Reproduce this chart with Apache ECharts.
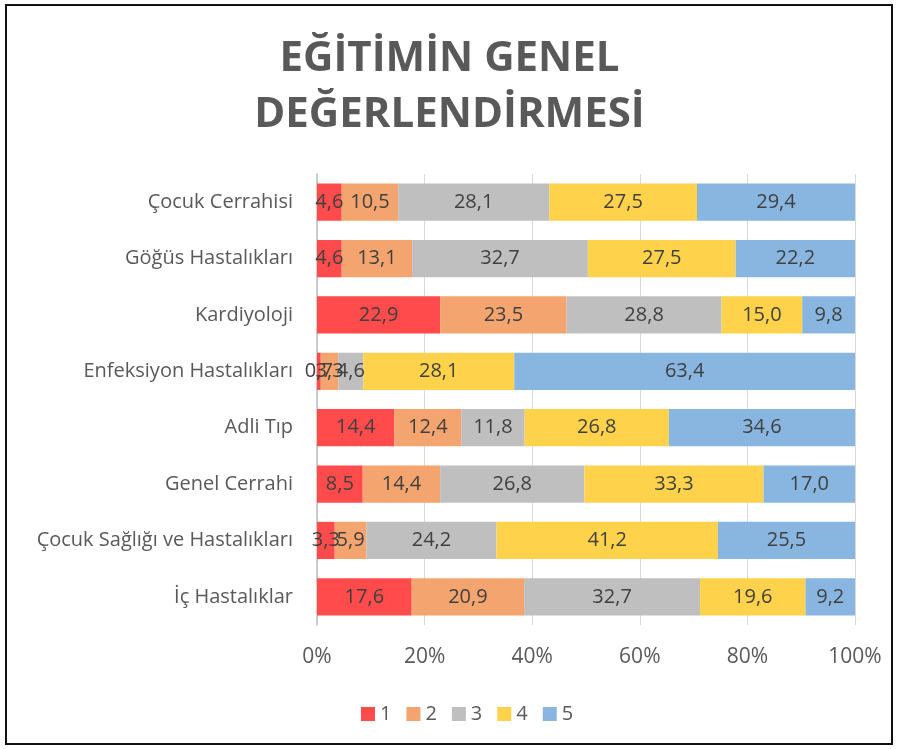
<!DOCTYPE html>
<html lang="tr">
  <head>
    <meta charset="UTF-8" />
    <title>Eğitimin Genel Değerlendirmesi</title>
    <script src="https://cdn.jsdelivr.net/npm/echarts@6/dist/echarts.min.js"></script>
    <style>
      body { margin: 0; background: #fff; }
      #frame { position: absolute; left: 5px; top: 4px; width: 884px; height: 737px; border: 2px solid #111; }
      #chart { position: absolute; left: 0; top: 0; width: 899px; height: 749px; }
    </style>
  </head>
  <body>
    <div id="frame"></div>
    <div id="chart"></div>
    <script>
      // bölümler (yukarıdan aşağıya)
      const categories = [
        'Çocuk Cerrahisi',
        'Göğüs Hastalıkları',
        'Kardiyoloji',
        'Enfeksiyon Hastalıkları',
        'Adli Tıp',
        'Genel Cerrahi',
        'Çocuk Sağlığı ve Hastalıkları',
        'İç Hastalıklar',
      ]
      // puanlar 1..5 (yüzde)
      const score1 = [4.6, 4.6, 22.9, 0.7, 14.4, 8.5, 3.3, 17.6]
      const score2 = [10.5, 13.1, 23.5, 3.3, 12.4, 14.4, 5.9, 20.9]
      const score3 = [28.1, 32.7, 28.8, 4.6, 11.8, 26.8, 24.2, 32.7]
      const score4 = [27.5, 27.5, 15.0, 28.1, 26.8, 33.3, 41.2, 19.6]
      const score5 = [29.4, 22.2, 9.8, 63.4, 34.6, 17.0, 25.5, 9.2]
      const seriesNames = ['1', '2', '3', '4', '5']
      const colors = ['#FF4B4B', '#F4A46E', '#BFBFBF', '#FFD24C', '#88B6E0']

      const all = [score1, score2, score3, score4, score5]
      const totals = categories.map((_, i) => all.reduce((s, a) => s + a[i], 0))

      const chart = echarts.init(document.getElementById('chart'))
      const font = '"Open Sans", "Noto Sans", sans-serif'

      chart.setOption({
        animation: false,
        title: {
          text: 'EĞİTİMİN GENEL\nDEĞERLENDİRMESİ',
          left: 'center',
          top: 26,
          textStyle: {
            fontFamily: font,
            fontSize: 42,
            fontWeight: 'bold',
            color: '#595959',
            lineHeight: 56,
          },
        },
        legend: {
          bottom: 20,
          left: 356,
          itemWidth: 14,
          itemHeight: 14,
          itemGap: 15,
          icon: 'rect',
          textStyle: { fontFamily: font, fontSize: 20, color: '#595959' },
          data: seriesNames,
        },
        grid: { left: 317, right: 44, top: 174, bottom: 124 },
        xAxis: {
          type: 'value',
          min: 0,
          max: 100,
          interval: 20,
          axisLine: { show: false },
          axisTick: { show: false },
          splitLine: { lineStyle: { color: '#D9D9D9', width: 1 } },
          axisLabel: {
            formatter: '{value}%',
            fontFamily: font,
            fontSize: 21,
            color: '#595959',
            margin: 22,
          },
        },
        yAxis: {
          type: 'category',
          inverse: true,
          data: categories,
          axisLine: { show: true, lineStyle: { color: '#BFBFBF', width: 1.5 } },
          axisTick: { show: false },
          axisLabel: {
            fontFamily: font,
            fontSize: 20,
            color: '#595959',
            margin: 24,
          },
        },
        series: all.map((arr, k) => ({
          name: seriesNames[k],
          type: 'bar',
          stack: 'total',
          barCategoryGap: '34%',
          itemStyle: { color: colors[k] },
          label: {
            show: true,
            position: 'inside',
            fontFamily: font,
            fontSize: 20,
            color: '#404040',
            formatter: p => arr[p.dataIndex].toFixed(1).replace('.', ','),
          },
          data: arr.map((v, i) => (v / totals[i]) * 100),
        })),
      })
    </script>
  </body>
</html>
